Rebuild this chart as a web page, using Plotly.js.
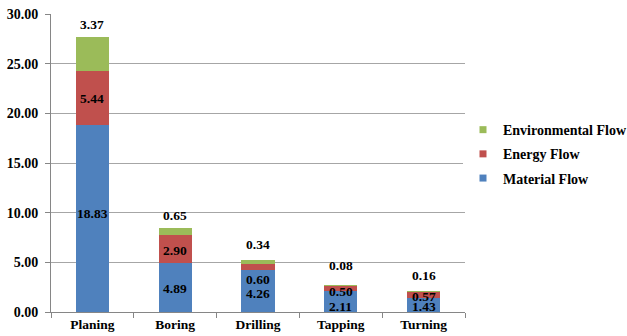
<!DOCTYPE html>
<html>
<head>
<meta charset="utf-8">
<script src="https://cdn.plot.ly/plotly-3.0.1.min.js"></script>
<style>
  html, body { margin: 0; padding: 0; background: #fff; }
  #chart { width: 627px; height: 336px; }
</style>
</head>
<body>
<div id="chart"></div>
<script>
// Flow breakdown per machining process (stacked)
const processes = ['Planing', 'Boring', 'Drilling', 'Tapping', 'Turning'];
const materialFlow = [18.83, 4.89, 4.26, 2.11, 1.43];
const energyFlow = [5.44, 2.90, 0.60, 0.50, 0.57];
const environmentalFlow = [3.37, 0.65, 0.34, 0.08, 0.16];
const yTicks = [0, 5, 10, 15, 20, 25, 30];

const serif = 'Liberation Serif, Times New Roman, serif';
const labelFont = { family: serif, size: 13.5, color: '#000' };
const bold = s => '<b>' + s + '</b>';

// Pixel nudges for the value labels so they stay legible on thin segments
const materialNudge = [5, -1, -3, -5, -2];
const energyNudge = [-1, -1, -13, -3, -2];
const envNudge = [13, 13, 16, 20, 15];

const series = [
  { name: 'Material Flow', values: materialFlow, color: '#4F81BD' },
  { name: 'Energy Flow', values: energyFlow, color: '#C0504D' },
  { name: 'Environmental Flow', values: environmentalFlow, color: '#9BBB59' }
];

const bars = series.map(s => ({
  type: 'bar',
  name: s.name,
  showlegend: false,
  x: processes,
  y: s.values,
  marker: { color: s.color },
  hoverinfo: 'x+y+name'
}));

// Legend keys drawn as small square swatches
const keys = series.map((s, i) => ({
  type: 'scatter',
  mode: 'markers',
  name: bold(s.name),
  legendgroup: 'g' + i,
  legendrank: 3 - i,
  x: [null],
  y: [null],
  marker: { symbol: 'square', size: 7, color: s.color },
  hoverinfo: 'skip'
}));

// Value labels: centred in each stacked segment, or above the stack top
const annotations = [];
processes.forEach((p, i) => {
  const m = materialFlow[i], e = energyFlow[i], v = environmentalFlow[i];
  annotations.push({ x: p, y: m / 2, text: bold(m.toFixed(2)), yshift: materialNudge[i] });
  annotations.push({ x: p, y: m + e / 2, text: bold(e.toFixed(2)), yshift: energyNudge[i] });
  annotations.push({ x: p, y: m + e + v, text: bold(v.toFixed(2)), yshift: envNudge[i] });
});
annotations.forEach(a => {
  a.xref = 'x'; a.yref = 'y';
  a.showarrow = false;
  a.font = labelFont;
  a.xanchor = 'center'; a.yanchor = 'middle';
});

const layout = {
  width: 627,
  height: 336,
  margin: { l: 51, r: 162, t: 14, b: 24, autoexpand: false },
  barmode: 'stack',
  bargap: 0.6,
  paper_bgcolor: '#fff',
  plot_bgcolor: '#fff',
  font: { family: serif, size: 14, color: '#000' },
  showlegend: true,
  legend: {
    x: 1.0, xref: 'paper', xanchor: 'right',
    y: 0.53, yanchor: 'middle',
    traceorder: 'grouped',
    tracegroupgap: 3,
    itemwidth: 30,
    font: { family: serif, size: 14, color: '#000' }
  },
  annotations: annotations,
  xaxis: {
    showline: true,
    linecolor: '#868686',
    linewidth: 1,
    ticks: 'outside',
    tickson: 'boundaries',
    ticklen: 5,
    tickcolor: '#868686',
    showgrid: false,
    tickvals: processes,
    ticktext: processes.map(bold),
    tickfont: { family: serif, size: 13.5, color: '#000' }
  },
  yaxis: {
    range: [0, 30],
    tickvals: yTicks,
    ticktext: yTicks.map(v => bold(v.toFixed(2))),
    showline: true,
    linecolor: '#868686',
    linewidth: 1,
    ticks: 'outside',
    ticklen: 5,
    ticklabelstandoff: 4,
    tickcolor: '#868686',
    showgrid: true,
    gridcolor: '#A6A6A6',
    gridwidth: 1,
    zeroline: false,
    tickfont: { family: serif, size: 14, color: '#000' }
  }
};

Plotly.newPlot('chart', bars.concat(keys), layout, { displayModeBar: false, staticPlot: true })
  .then(gd => {
    // Pin the legend's right edge near the page edge without moving the plot area
    const plotW = gd._fullLayout._size.w;
    const rightPx = 627 - 51 + 5;
    Plotly.relayout(gd, { 'legend.x': rightPx / plotW });
  });
</script>
</body>
</html>
